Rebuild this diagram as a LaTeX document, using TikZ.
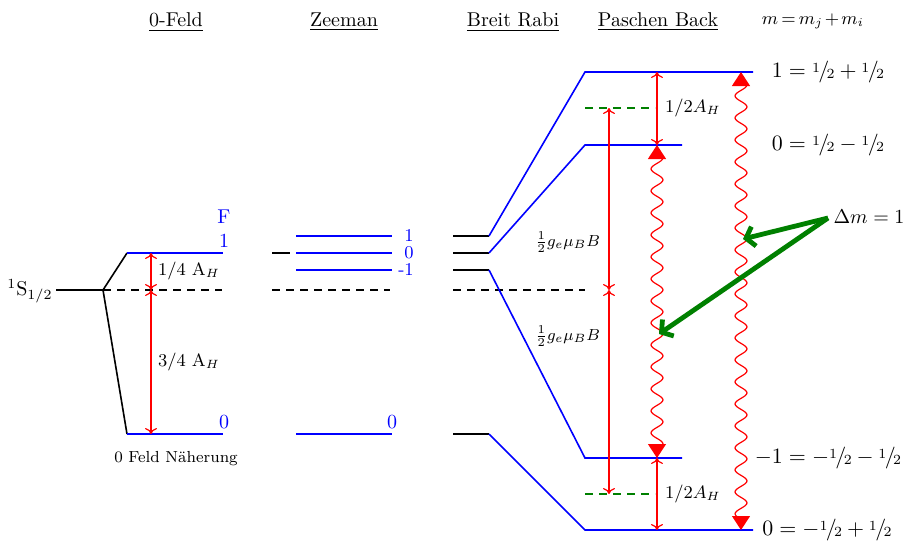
\documentclass[tikz,border=0pt]{standalone}
\usetikzlibrary{arrows.meta,decorations.pathmorphing}
\newcommand{\hlf}{\mbox{\raisebox{.6ex}{$\scriptstyle1$}\kern-.08em$/$\kern-.12em\raisebox{-.15ex}{$\scriptstyle2$}}}
\begin{document}
\begin{tikzpicture}[x=0.5pt,y=-0.5pt,
  lev/.style={blue, thick},
  blk/.style={black, thick},
  dsh/.style={black, thick, dash pattern=on 4pt off 3pt},
  gdsh/.style={green!50!black, thick, dash pattern=on 4pt off 3pt},
  rarr/.style={red, semithick, {To[length=3pt,width=6pt]}-{To[length=3pt,width=6pt]}},
  wavy/.style={red, semithick, decorate, decoration={snake, amplitude=3pt, segment length=11pt, pre length=3pt, post length=3pt}, {Triangle[length=7pt,width=9pt]}-{Triangle[length=7pt,width=9pt]}},
  garr/.style={green!50!black, line width=2.4pt, -{Straight Barb[length=4pt,width=10pt]}},
  head/.style={font=\normalsize},
  lab/.style={font=\small},
  bl/.style={blue, inner sep=1pt},
  zbl/.style={blue, inner sep=0pt, font=\small},
  eq/.style={font=\fontsize{10.5}{12}\selectfont}]
\useasboundingbox (0,0) rectangle (906,541);

% headings
\node[head] (h1) at (176,22) {\underline{0-Feld}};
\node[head] (h2) at (344,22) {\underline{Zeeman}};
\node[head] (h3) at (513,22) {\underline{Breit Rabi}};
\node[head] (h4) at (658,22) {\underline{Paschen Back}};
\node[font=\small] (h5) at (813,21) {$\medmuskip=2mu\thickmuskip=3mu m = m_j + m_i$};

% ---- 0-Feld
\node (S) at (30,291) {$^1\mathrm{S}_{1/2}$};
\coordinate (s0) at (56,290);
\coordinate (s1) at (103,290);
\coordinate (f1a) at (127,253);
\coordinate (f1b) at (223,253);
\coordinate (f0a) at (127,434);
\coordinate (f0b) at (223,434);
\coordinate (d0e) at (222,290);
\draw[blk] (s0) -- (s1) -- (f1a);
\draw[blk] (s1) -- (f0a);
\draw[lev] (f1a) -- (f1b);
\draw[lev] (f0a) -- (f0b);
\draw[dsh] (s1) -- (d0e);
\node[bl] (F) at (224,217) {F};
\node[bl] (F1) at (224,241) {1};
\node[bl] (F0) at (224,422) {0};
\coordinate (a1) at (151,253);
\coordinate (a2) at (151,290);
\coordinate (a3) at (151,434);
\draw[rarr] (a2) -- (a1);
\draw[rarr] (a2) -- (a3);
\node[lab, anchor=west] (q1) at (151,271) {1/4 A$_H$};
\node[lab, anchor=west] (q3) at (151,362) {3/4 A$_H$};
\node[font=\footnotesize] (nh) at (176,459) {0 Feld Näherung};

% ---- Zeeman
\coordinate (z0a) at (272,253);
\coordinate (z0b) at (290,253);
\draw[blk] (z0a) -- (z0b);
\coordinate (zpa) at (296,236); \coordinate (zpb) at (392,236);
\coordinate (zoa) at (296,253); \coordinate (zob) at (392,253);
\coordinate (zma) at (296,270); \coordinate (zmb) at (392,270);
\coordinate (zla) at (296,434); \coordinate (zlb) at (392,434);
\draw[lev] (zpa) -- (zpb);
\draw[lev] (zoa) -- (zob);
\draw[lev] (zma) -- (zmb);
\draw[lev] (zla) -- (zlb);
\node[zbl] (zl1) at (409,236) {1};
\node[zbl] (zl0) at (409,253) {0};
\node[zbl] (zlm) at (406,270) {-1};
\node[bl] (zll) at (392,422) {0};
\coordinate (zda) at (272,290); \coordinate (zdb) at (390,290);
\draw[dsh] (zda) -- (zdb);

% ---- Breit Rabi
\coordinate (b1a) at (453,236); \coordinate (b1b) at (489,236);
\coordinate (b2a) at (453,253); \coordinate (b2b) at (489,253);
\coordinate (b3a) at (453,270); \coordinate (b3b) at (489,270);
\coordinate (b4a) at (453,434); \coordinate (b4b) at (489,434);
\draw[blk] (b1a) -- (b1b);
\draw[blk] (b2a) -- (b2b);
\draw[blk] (b3a) -- (b3b);
\draw[blk] (b4a) -- (b4b);
\coordinate (bda) at (453,290); \coordinate (bdb) at (585,290);
\draw[dsh] (bda) -- (bdb);

% ---- Paschen Back levels
\coordinate (p1a) at (585,72);  \coordinate (p1b) at (753,72);
\coordinate (p2a) at (585,145); \coordinate (p2b) at (682,145);
\coordinate (p3a) at (585,458); \coordinate (p3b) at (682,458);
\coordinate (p4a) at (585,530); \coordinate (p4b) at (753,530);
\draw[lev] (b1b) -- (p1a) -- (p1b);
\draw[lev] (b2b) -- (p2a) -- (p2b);
\draw[lev] (b3b) -- (p3a) -- (p3b);
\draw[lev] (b4b) -- (p4a) -- (p4b);

\coordinate (g1a) at (585,108); \coordinate (g1b) at (655,108);
\coordinate (g2a) at (585,494); \coordinate (g2b) at (655,494);
\draw[gdsh] (g1a) -- (g1b);
\draw[gdsh] (g2a) -- (g2b);

% splittings
\coordinate (r1) at (657,72);  \coordinate (r2) at (657,145);
\coordinate (r3) at (657,458); \coordinate (r4) at (657,530);
\draw[rarr] (r1) -- (r2);
\draw[rarr] (r3) -- (r4);
\node[lab, anchor=west] (ah1) at (658,108) {$1/2A_H$};
\node[lab, anchor=west] (ah2) at (658,494) {$1/2A_H$};

\coordinate (m1) at (609,108);
\coordinate (m2) at (609,290);
\coordinate (m3) at (609,494);
\draw[rarr] (m2) -- (m1);
\draw[rarr] (m2) -- (m3);
\node[font=\footnotesize, anchor=east] (gb1) at (607,242) {$\frac12 g_e\mu_B B$};
\node[font=\footnotesize, anchor=east] (gb2) at (607,336) {$\frac12 g_e\mu_B B$};

% transitions
\coordinate (w1a) at (657,145); \coordinate (w1b) at (657,458);
\coordinate (w2a) at (741,72);  \coordinate (w2b) at (741,530);
\draw[wavy] (w1a) -- (w1b);
\draw[wavy] (w2a) -- (w2b);

% Delta m
\node (dm) at (869,217) {$\Delta m = 1$};
\coordinate (gs) at (828,218);
\coordinate (ge1) at (743,239);
\coordinate (ge2) at (659,334);
\draw[garr] (gs) -- (ge1);
\draw[garr] (gs) -- (ge2);

% right labels
\node[eq] (e1) at (828,72)  {$1 = \hlf + \hlf$};
\node[eq] (e2) at (828,145) {$0 = \hlf - \hlf$};
\node[eq] (e3) at (828,458) {$-1 = -\hlf - \hlf$};
\node[eq] (e4) at (827,530) {$0 = -\hlf + \hlf$};
\end{tikzpicture}
\end{document}
